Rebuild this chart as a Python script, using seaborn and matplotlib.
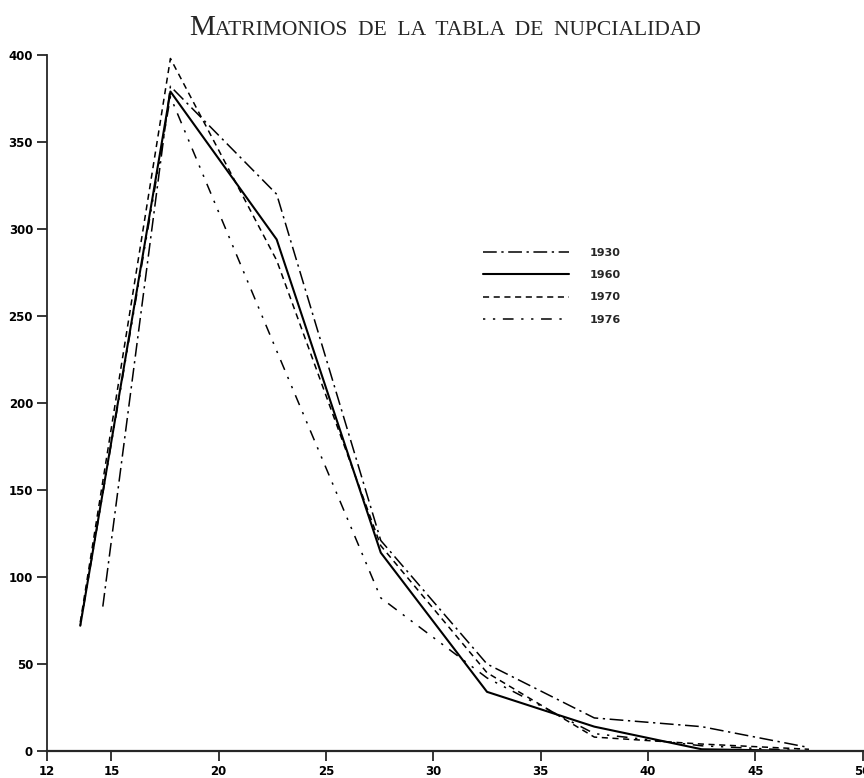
import numpy as np
import pandas as pd
import seaborn as sns
import matplotlib
matplotlib.use('Agg')
from matplotlib import pyplot as plt
from matplotlib.offsetbox import TextArea, HPacker, AnchoredOffsetbox

# edades (puntos medios de los grupos) y matrimonios por año
edades_1930 = [14.6, 17.75, 22.7, 27.55, 32.5, 37.5, 42.5, 47.5]
edades = [13.55, 17.75, 22.7, 27.55, 32.5, 37.5, 42.5, 47.5]

mat_1930 = [83, 382, 320, 121, 50, 19, 14, 2]
mat_1960 = [72, 379, 294, 114, 34, 14, 1, 0]
mat_1970 = [74, 398, 282, 118, 45, 8, 4, 1]
mat_1976 = [72, 376, 230, 88, 42, 10, 3, 0]

anios = ['1930', '1960', '1970', '1976']

df = pd.concat([
    pd.DataFrame({'edad': edades_1930, 'matrimonios': mat_1930, 'anio': '1930'}),
    pd.DataFrame({'edad': edades, 'matrimonios': mat_1960, 'anio': '1960'}),
    pd.DataFrame({'edad': edades, 'matrimonios': mat_1970, 'anio': '1970'}),
    pd.DataFrame({'edad': edades, 'matrimonios': mat_1976, 'anio': '1976'}),
], ignore_index=True)

sns.set_style('ticks')

fig = plt.figure(figsize=(8.64, 7.78), dpi=100)
ax = fig.add_axes([0.0544, 0.0347, 0.944, 0.8946])

estilos = {'1930': (9, 3, 1.5, 3), '1960': '', '1970': (4, 3), '1976': (1.5, 5, 1.5, 5, 7, 5)}
sns.lineplot(data=df, x='edad', y='matrimonios', style='anio', style_order=anios,
             dashes=estilos, color='black', sort=False, estimator=None,
             linewidth=1.1, ax=ax)
# la de 1960 va algo mas gruesa
ax.lines[1].set_linewidth(1.5)

ax.set_xlim(12, 50)
ax.set_ylim(0, 400)
ax.set_xticks([12, 15, 20, 25, 30, 35, 40, 45, 50])
ax.set_yticks([0, 50, 100, 150, 200, 250, 300, 350, 400])
ax.set_xlabel('')
ax.set_ylabel('')
ax.tick_params(axis='both', length=7, width=1.1, labelsize=8.5, pad=3, colors='black')
for lbl in ax.get_xticklabels() + ax.get_yticklabels():
    lbl.set_fontweight('bold')
sns.despine(ax=ax)
ax.spines['left'].set_linewidth(1.3)
ax.spines['bottom'].set_linewidth(1.6)

handles, labels = ax.get_legend_handles_labels()
handles[1].set_linewidth(1.5)
ax.legend(handles, labels, loc='upper left', bbox_to_anchor=(0.522, 0.737),
          frameon=False, handlelength=7.8, handletextpad=1.8, labelspacing=1.1,
          prop={'size': 8, 'weight': 'bold'})

# titulo en versalitas
t1 = TextArea('M', textprops=dict(fontsize=21, family='Liberation Serif'))
t2 = TextArea('ATRIMONIOS  DE  LA  TABLA  DE  NUPCIALIDAD',
              textprops=dict(fontsize=15.5, family='Liberation Serif'))
caja = HPacker(children=[t1, t2], align='baseline', pad=0, sep=0)
titulo = AnchoredOffsetbox(loc='center', child=caja, frameon=False,
                           bbox_to_anchor=(0.515, 1 - 28 / 778),
                           bbox_transform=fig.transFigure, borderpad=0)
fig.add_artist(titulo)

fig.savefig('out.png', dpi=100)
